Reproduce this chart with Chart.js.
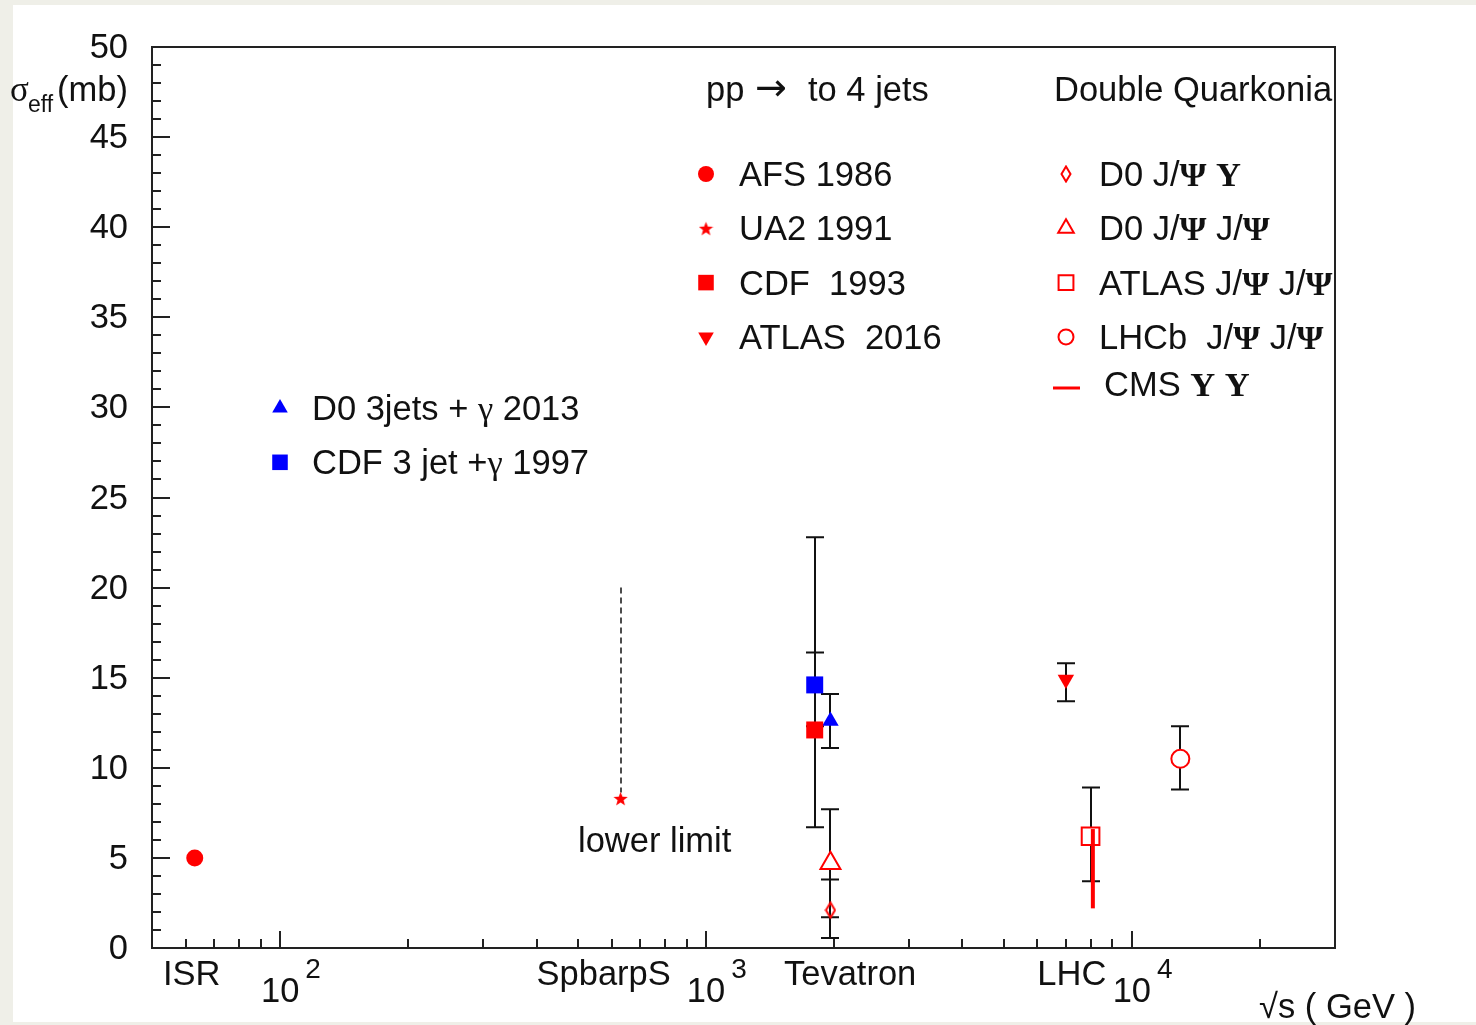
<!DOCTYPE html>
<html lang="en">
<head>
  <meta charset="UTF-8">
  <title>sigma_eff vs sqrt(s)</title>
  <script src="https://cdn.jsdelivr.net/npm/chart.js"></script>
  <style>
    html, body { margin: 0; padding: 0; background: #efefe8; }
    #wrap { width: 1476px; height: 1025px; }
  </style>
</head>
<body>
  <div id="wrap"><canvas id="sigma-chart" width="1476" height="1025"></canvas></div>

  <script>
    // ---- axes ----
    const xMin = 50, xMax = 30000;
    const yMin = 0, yMax = 50;
    const yTicks = [0, 5, 10, 15, 20, 25, 30, 35, 40, 45, 50];
    const xDecades = [100, 1000, 10000];
    const xDecadeExp = ['2', '3', '4'];
    const machines = ['ISR', 'SpbarpS', 'Tevatron', 'LHC'];
    const machineAt = [62, 575, 2180, 7230];

    // ---- measurements (sigma_eff in mb, sqrt(s) in GeV) ----
    const expNames = ['AFS 1986', 'UA2 1991', 'CDF  1993', 'ATLAS  2016',
                      'D0 3jets + γ 2013', 'CDF 3 jet +γ 1997',
                      'D0 J/Ψ Υ', 'D0 J/Ψ J/Ψ', 'ATLAS J/Ψ J/Ψ', 'LHCb  J/Ψ J/Ψ'];
    const sqrtS    = [63, 630, 1800, 7000, 1960, 1800, 1960, 1960, 8000, 13000];
    const sigmaEff = [5.0, 8.3, 12.1, 14.9, 12.6, 14.6, 2.1, 4.7, 6.2, 10.5];
    const sigmaHi  = [null, null, 22.8, 15.8, 14.1, 16.4, 3.8, 7.7, 8.9, 12.3];
    const sigmaLo  = [null, null, 6.7, 13.7, 11.1, 12.3, 0.55, 1.7, 3.7, 8.8];
    const ua2LimitTop = 20;           // dashed "lower limit" line
    const cmsName = 'CMS Υ Υ';
    const cmsS = [8100, 8100];
    const cmsRange = [2.2, 6.6];

    const SANS = '"Liberation Sans", Arial, Helvetica, sans-serif';
    const SERIF = '"Liberation Serif", "DejaVu Serif", serif';
    const INK = '#111';
    const FS = 34.5;

    function makeStar(size, color) {
      const c = document.createElement('canvas');
      c.width = c.height = size;
      const g = c.getContext('2d');
      const cx = size / 2, cy = size / 2 + size * 0.06, R = size / 2, r = R * 0.42;
      g.fillStyle = color;
      g.beginPath();
      for (let i = 0; i < 10; i++) {
        const a = -Math.PI / 2 + i * Math.PI / 5;
        const rr = i % 2 ? r : R;
        g.lineTo(cx + rr * Math.cos(a), cy + rr * Math.sin(a));
      }
      g.closePath();
      g.fill();
      return c;
    }

    function makeDiamond(w, h, color) {
      const c = document.createElement('canvas');
      c.width = w; c.height = h;
      const g = c.getContext('2d');
      g.strokeStyle = color;
      g.lineWidth = 2;
      g.beginPath();
      g.moveTo(w / 2, 1.5); g.lineTo(w - 1.5, h / 2); g.lineTo(w / 2, h - 1.5); g.lineTo(1.5, h / 2);
      g.closePath();
      g.stroke();
      return c;
    }

    const starImg = makeStar(15, '#ff0000');
    const diamondImg = makeDiamond(12, 18, '#ff0000');

    // marker look per experiment (plot radius r, legend radius lr)
    const markers = [
      { style: 'circle',   rot: 0,   fill: '#ff0000', line: '#ff0000', bw: 0, r: 8.5, lr: 8 },
      { style: starImg,    rot: 0,   fill: '#ff0000', line: '#ff0000', bw: 0, r: 8,   lr: 8 },
      { style: 'rect',     rot: 0,   fill: '#ff0000', line: '#ff0000', bw: 0, r: 12,  lr: 11 },
      { style: 'triangle', rot: 180, fill: '#ff0000', line: '#ff0000', bw: 0, r: 9.5, lr: 9 },
      { style: 'triangle', rot: 0,   fill: '#0000ff', line: '#0000ff', bw: 0, r: 9.5, lr: 9 },
      { style: 'rect',     rot: 0,   fill: '#0000ff', line: '#0000ff', bw: 0, r: 12,  lr: 11 },
      { style: diamondImg, rot: 0,   fill: '#ffffff', line: '#ff0000', bw: 2, r: 8,   lr: 8 },
      { style: 'triangle', rot: 0,   fill: '#ffffff', line: '#ff0000', bw: 2, r: 11.5,lr: 9 },
      { style: 'rect',     rot: 0,   fill: '#ffffff', line: '#ff0000', bw: 2, r: 12.5,lr: 10.5 },
      { style: 'circle',   rot: 0,   fill: '#ffffff', line: '#ff0000', bw: 2, r: 9,   lr: 7.5 }
    ];

    // draw text, switching to a serif face for Greek letters
    function drawMixed(ctx, text, x, y, size) {
      let cx = x;
      const runs = text.match(/[\u0370-\u03ff]+|[^\u0370-\u03ff]+/g) || [];
      runs.forEach(run => {
        const greek = /[\u0370-\u03ff]/.test(run);
        const upper = /[\u0391-\u03a9]/.test(run);
        ctx.font = greek ? (upper ? 'bold ' : '') + size + 'px ' + SERIF : size + 'px ' + SANS;
        ctx.fillText(run, cx, y);
        cx += ctx.measureText(run).width;
      });
    }

    const pagePlugin = {
      id: 'page',
      beforeDraw(chart) {
        const ctx = chart.ctx;
        ctx.save();
        ctx.fillStyle = '#efefe8';
        ctx.fillRect(0, 0, chart.width, chart.height);
        ctx.fillStyle = '#ffffff';
        ctx.fillRect(13, 5, chart.width - 13, 1017);
        ctx.restore();
      }
    };

    const axesPlugin = {
      id: 'rootAxes',
      beforeDatasetsDraw(chart) {
        const ctx = chart.ctx;
        const a = chart.chartArea;
        const xs = chart.scales.x, ys = chart.scales.y;
        ctx.save();
        ctx.strokeStyle = '#222';
        ctx.lineWidth = 2;

        // y ticks: minor every 1, major on yTicks
        for (let v = yMin; v <= yMax; v++) {
          const py = Math.round(ys.getPixelForValue(v));
          const len = yTicks.includes(v) ? 18 : 9;
          ctx.beginPath(); ctx.moveTo(a.left, py); ctx.lineTo(a.left + len, py); ctx.stroke();
        }
        // x ticks: decades major, 2..9 minor
        for (let d = 10; d <= xMax; d *= 10) {
          for (let m = 1; m <= 9; m++) {
            const v = d * m;
            if (v < xMin || v > xMax) continue;
            const px = Math.round(xs.getPixelForValue(v));
            const len = m === 1 ? 17 : 9;
            ctx.beginPath(); ctx.moveTo(px, a.bottom); ctx.lineTo(px, a.bottom - len); ctx.stroke();
          }
        }
        // frame
        ctx.strokeRect(a.left, a.top, a.right - a.left, a.bottom - a.top);

        // tick labels
        ctx.fillStyle = INK;
        ctx.font = FS + 'px ' + SANS;
        ctx.textAlign = 'right';
        ctx.textBaseline = 'middle';
        yTicks.forEach(v => ctx.fillText(String(v), 128, ys.getPixelForValue(v) + 1.5));

        ctx.textBaseline = 'alphabetic';
        xDecades.forEach((v, i) => {
          const px = xs.getPixelForValue(v);
          ctx.font = FS + 'px ' + SANS;
          ctx.textAlign = 'center';
          ctx.fillText('10', px, 1002);
          const hw = ctx.measureText('10').width / 2;
          ctx.font = '28px ' + SANS;
          ctx.textAlign = 'left';
          ctx.fillText(xDecadeExp[i], px + hw + 6, 978);
        });

        ctx.font = FS + 'px ' + SANS;
        ctx.textAlign = 'center';
        machines.forEach((m, i) => ctx.fillText(m, xs.getPixelForValue(machineAt[i]), 985));

        // axis titles
        ctx.textAlign = 'right';
        ctx.fillText('√s ( GeV )', 1416, 1018);
        ctx.textAlign = 'left';
        ctx.font = '35px ' + SERIF;
        ctx.fillText('σ', 10, 101);
        ctx.font = '23px ' + SANS;
        ctx.fillText('eff', 28, 112);
        ctx.font = FS + 'px ' + SANS;
        ctx.fillText('(mb)', 57, 101);

        // error bars
        ctx.strokeStyle = INK;
        ctx.lineWidth = 2;
        sqrtS.forEach((s, i) => {
          if (sigmaHi[i] === null) return;
          const px = Math.round(xs.getPixelForValue(s));
          const hi = ys.getPixelForValue(sigmaHi[i]);
          const lo = ys.getPixelForValue(sigmaLo[i]);
          ctx.beginPath();
          ctx.moveTo(px, hi); ctx.lineTo(px, lo);
          ctx.moveTo(px - 9, hi); ctx.lineTo(px + 9, hi);
          ctx.moveTo(px - 9, lo); ctx.lineTo(px + 9, lo);
          ctx.stroke();
        });

        // UA2 lower limit
        const ux = Math.round(xs.getPixelForValue(sqrtS[1]));
        ctx.lineWidth = 1.5;
        ctx.setLineDash([6, 4]);
        ctx.beginPath();
        ctx.moveTo(ux, ys.getPixelForValue(ua2LimitTop));
        ctx.lineTo(ux, ys.getPixelForValue(sigmaEff[1]) - 6);
        ctx.stroke();
        ctx.setLineDash([]);
        ctx.restore();
      }
    };

    const legendPlugin = {
      id: 'rootLegend',
      afterDraw(chart) {
        const ctx = chart.ctx;
        const a = chart.chartArea;
        const draw = Chart.helpers && Chart.helpers.drawPoint;
        ctx.save();
        ctx.beginPath();
        ctx.rect(a.left, a.top, a.right - a.left + 1, a.bottom - a.top);
        ctx.clip();
        ctx.fillStyle = INK;
        ctx.textBaseline = 'alphabetic';
        ctx.textAlign = 'left';

        // headers
        ctx.font = FS + 'px ' + SANS;
        ctx.fillText('pp', 706, 101);
        ctx.font = '38px "DejaVu Sans", sans-serif';
        ctx.fillText('→', 755, 100);
        ctx.font = FS + 'px ' + SANS;
        ctx.fillText('to 4 jets', 808, 101);
        ctx.fillText('Double Quarkonia', 1054, 101);
        ctx.fillText('lower limit', 578, 852);

        const groups = [
          { idx: [0, 1, 2, 3], mx: 706, tx: 739, y0: 174 },
          { idx: [6, 7, 8, 9], mx: 1066, tx: 1099, y0: 174 },
          { idx: [4, 5], mx: 280, tx: 312, y0: 408 }
        ];
        groups.forEach(g => {
          g.idx.forEach((i, row) => {
            const y = g.y0 + row * 54.3;
            const mk = markers[i];
            ctx.save();
            ctx.fillStyle = mk.fill;
            ctx.strokeStyle = mk.line;
            ctx.lineWidth = mk.bw;
            if (draw) draw(ctx, { pointStyle: mk.style, rotation: mk.rot, radius: mk.lr, borderWidth: mk.bw }, g.mx, y);
            ctx.restore();
            ctx.fillStyle = INK;
            drawMixed(ctx, expNames[i], g.tx, y + 12, FS);
          });
        });

        // CMS entry
        ctx.strokeStyle = '#ff0000';
        ctx.lineWidth = 3;
        ctx.beginPath(); ctx.moveTo(1053, 388); ctx.lineTo(1080, 388); ctx.stroke();
        ctx.fillStyle = INK;
        drawMixed(ctx, cmsName, 1104, 396, FS);
        ctx.restore();
      }
    };

    const datasets = [{
      label: cmsName,
      data: cmsS.map((s, i) => ({ x: s, y: cmsRange[i] })),
      showLine: true,
      borderColor: '#ff0000',
      borderWidth: 4,
      pointRadius: 0
    }];
    expNames.forEach((name, i) => {
      const mk = markers[i];
      datasets.push({
        label: name,
        data: [{ x: sqrtS[i], y: sigmaEff[i] }],
        pointStyle: mk.style,
        pointRotation: mk.rot,
        pointRadius: mk.r,
        backgroundColor: mk.fill,
        borderColor: mk.line,
        borderWidth: mk.bw
      });
    });

    new Chart(document.getElementById('sigma-chart'), {
      type: 'scatter',
      data: { datasets: datasets },
      options: {
        responsive: false,
        devicePixelRatio: 1,
        animation: false,
        events: [],
        layout: { padding: { left: 152, top: 47, right: 141, bottom: 77 } },
        scales: {
          x: { type: 'logarithmic', min: xMin, max: xMax, display: false },
          y: { type: 'linear', min: yMin, max: yMax, display: false }
        },
        plugins: { legend: { display: false }, tooltip: { enabled: false } }
      },
      plugins: [pagePlugin, axesPlugin, legendPlugin]
    });
  </script>
</body>
</html>
